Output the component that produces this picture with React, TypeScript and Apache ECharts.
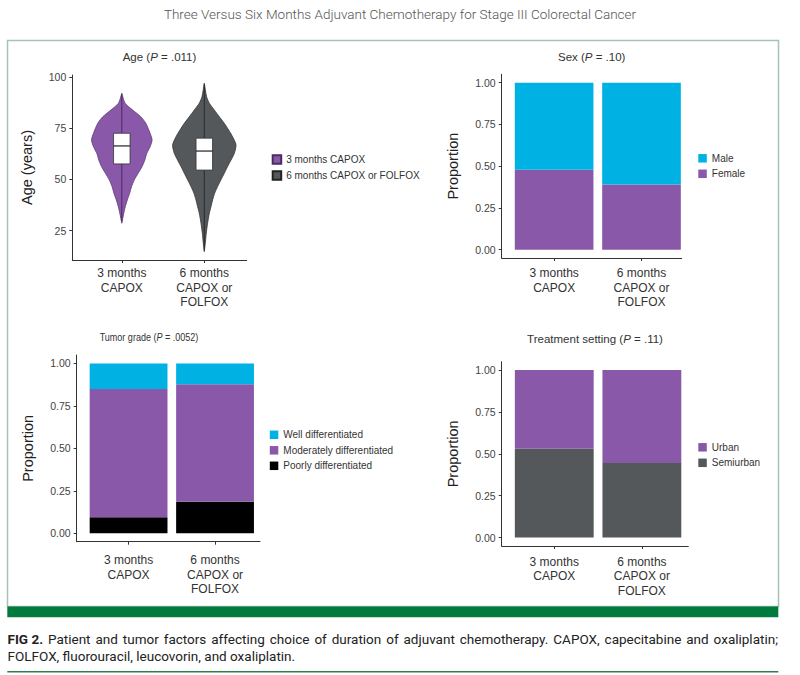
import React, { useEffect, useRef } from 'react';
import * as echarts from 'echarts';

// ---------- data ----------
const groups = ['3 months\nCAPOX', '6 months\nCAPOX or\nFOLFOX'];
const groupPos = [1, 2];

// Age violins: [age (years), half-width of violin in x-axis units]
const violin3m: [number, number][] = [
  [92.2, 0], [87.3, 0.04], [84.0, 0.131], [80.7, 0.23], [77.5, 0.291], [72.6, 0.343],
  [69.3, 0.367], [66.0, 0.343], [62.8, 0.303], [59.5, 0.279], [56.3, 0.246], [53.0, 0.198],
  [49.8, 0.152], [46.5, 0.118], [43.2, 0.095], [40.0, 0.067], [36.7, 0.042], [33.5, 0.024], [28.6, 0],
];
const violin6m: [number, number][] = [
  [97.1, 0], [90.5, 0.028], [87.3, 0.061], [84.0, 0.121], [80.7, 0.182], [77.5, 0.242],
  [74.2, 0.295], [70.9, 0.343], [66.9, 0.384], [62.8, 0.364], [59.5, 0.324], [56.3, 0.282],
  [53.0, 0.242], [49.8, 0.202], [46.5, 0.161], [43.2, 0.125], [40.0, 0.101], [36.7, 0.081],
  [33.5, 0.061], [28.6, 0.04], [23.7, 0.024], [18.8, 0.012], [14.7, 0],
];
const box3m = [57.6, 66.4, 72.6]; // q1, median, q3
const box6m = [54.6, 63.9, 70.2];
const whisker3m = [29.5, 91.5];
const whisker6m = [15.2, 96.5];
const ageTicks = [25, 50, 75, 100];
const propTicks = [0, 0.25, 0.5, 0.75, 1];

const sexFemale = [0.479, 0.39];
const sexMale = [0.521, 0.61];
const gradePoor = [0.094, 0.185];
const gradeModerate = [0.756, 0.692];
const gradeWell = [0.15, 0.123];
const settingSemiurban = [0.53, 0.446];
const settingUrban = [0.47, 0.554];

const captionLine1 = 'FIG 2.|Patient and tumor factors affecting choice of duration of adjuvant chemotherapy. CAPOX, capecitabine and oxaliplatin;';
const captionLine2 = 'FOLFOX, fluorouracil, leucovorin, and oxaliplatin.';

// ---------- styling ----------
const FONT = 'Liberation Sans';
const CAP_FONT = 'Roboto';
const CAP_SIZE = 13.5;
const PURPLE = '#8a58a8';
const CYAN = '#00b2e3';
const GRAY = '#55585a';
const BLACK = '#000000';
const AXIS = '#333333';

const barHalf = 0.45;
const boxHalf = 0.1;

function barRender(params: any, api: any) {
  const x = api.value(0);
  const y0 = api.value(1);
  const y1 = api.value(2);
  const p0 = api.coord([x - barHalf, y1]);
  const p1 = api.coord([x + barHalf, y0]);
  return {
    type: 'rect',
    shape: { x: p0[0], y: p0[1], width: p1[0] - p0[0], height: p1[1] - p0[1] },
    style: { fill: api.visual('color') },
  };
}

function stackSeries(layers: { name: string; values: number[]; color: string }[], idx: number) {
  const base = [0, 0];
  return layers.map((l) => {
    const data = l.values.map((v, i) => {
      const d = [groupPos[i], base[i], base[i] + v];
      base[i] += v;
      return d;
    });
    return {
      type: 'custom',
      name: l.name,
      xAxisIndex: idx,
      yAxisIndex: idx,
      data,
      itemStyle: { color: l.color },
      encode: { x: 0, y: [1, 2] },
      renderItem: barRender,
    };
  });
}

function violinRender(profile: [number, number][], box: number[], whisk: number[], outline: string, whiskColor: string) {
  return (params: any, api: any) => {
    const x = api.value(0);
    const right = profile.map(([a, w]) => api.coord([x + w, a]));
    const left = profile.slice().reverse().map(([a, w]) => api.coord([x - w, a]));
    const pts = right.concat(left);
    const b0 = api.coord([x - boxHalf, box[2]]);
    const b1 = api.coord([x + boxHalf, box[0]]);
    const m0 = api.coord([x - boxHalf, box[1]]);
    const m1 = api.coord([x + boxHalf, box[1]]);
    const w0 = api.coord([x, whisk[0]]);
    const w1 = api.coord([x, whisk[1]]);
    return {
      type: 'group',
      children: [
        { type: 'polygon', shape: { points: pts, smooth: 0.25 }, style: { fill: api.visual('color'), stroke: outline, lineWidth: 0.8 } },
        { type: 'line', shape: { x1: w0[0], y1: w0[1], x2: w1[0], y2: w1[1] }, style: { stroke: whiskColor, lineWidth: 1 } },
        { type: 'rect', shape: { x: b0[0], y: b0[1], width: b1[0] - b0[0], height: b1[1] - b0[1] }, style: { fill: '#ffffff', stroke: '#333333', lineWidth: 0.8 } },
        { type: 'line', shape: { x1: m0[0], y1: m0[1], x2: m1[0], y2: m1[1] }, style: { stroke: '#222222', lineWidth: 1.2 } },
      ],
    };
  };
}

function xAxisFor(gridIndex: number, max: number, margin: number) {
  return {
    type: 'value',
    gridIndex,
    min: 0.4,
    max,
    axisLine: { show: true, onZero: false, lineStyle: { color: AXIS, width: 1 } },
    axisTick: { show: true, length: 3, customValues: groupPos, lineStyle: { color: AXIS } },
    axisLabel: {
      customValues: groupPos,
      formatter: (v: number) => groups[Math.round(v) - 1] ?? '',
      margin,
      fontFamily: FONT,
      fontSize: 12,
      lineHeight: 14.5,
      color: '#333333',
    },
    splitLine: { show: false },
  };
}

function yAxisFor(gridIndex: number, min: number, max: number, ticks: number[], name: string, nameGap: number, fmt: (v: number) => string) {
  return {
    type: 'value',
    gridIndex,
    min,
    max,
    name,
    nameLocation: 'middle',
    nameGap,
    nameTextStyle: { fontFamily: FONT, fontSize: 14.5, color: '#222222' },
    axisLine: { show: true, onZero: false, lineStyle: { color: AXIS, width: 1 } },
    axisTick: { show: true, length: 3, customValues: ticks, lineStyle: { color: AXIS } },
    axisLabel: { customValues: ticks, formatter: fmt, margin: 6, fontFamily: FONT, fontSize: 10.5, color: '#444444' },
    splitLine: { show: false },
  };
}

function legendFor(left: number, top: number, names: string[]) {
  return {
    left,
    top,
    orient: 'vertical',
    padding: 0,
    itemWidth: 8.5,
    itemHeight: 8.5,
    itemGap: 5.5,
    icon: 'rect',
    selectedMode: false,
    data: names,
    textStyle: { fontFamily: FONT, fontSize: 10, color: '#333333' },
  };
}

const prop = (v: number) => v.toFixed(2);

// justified caption line: words spread between x0 and x1
function justifiedLine(line: string, x0: number, x1: number, y: number) {
  const [boldPart, rest] = line.split('|');
  const tokens = [{ t: boldPart, b: true }, ...rest.split(' ').map((t) => ({ t, b: false }))];
  const ctx = document.createElement('canvas').getContext('2d') as CanvasRenderingContext2D;
  const widths = tokens.map((tk) => {
    ctx.font = `${tk.b ? 'bold ' : ''}${CAP_SIZE}px ${CAP_FONT}`;
    return ctx.measureText(tk.t).width;
  });
  const total = widths.reduce((a, b) => a + b, 0);
  const gap = (x1 - x0 - total) / (tokens.length - 1);
  let x = x0;
  return tokens.map((tk, i) => {
    const el = {
      type: 'text', x, y, z: 10,
      style: { text: tk.t, fontFamily: CAP_FONT, fontSize: CAP_SIZE, fontWeight: tk.b ? 'bold' : 'normal', fill: '#222222', align: 'left', verticalAlign: 'middle' },
    };
    x += widths[i] + gap;
    return el;
  });
}

export default function App() {
  const ref = useRef<HTMLDivElement>(null);
  useEffect(() => {
    if (!ref.current) return;
    const chart = echarts.init(ref.current, null, { renderer: 'svg' });
    const option: any = {
      animation: false,
      backgroundColor: '#ffffff',
      textStyle: { fontFamily: FONT },
      grid: [
        { left: 72.3, top: 75, width: 174.4, height: 185 },
        { left: 501.7, top: 74.3, width: 180, height: 183.7 },
        { left: 76.7, top: 355, width: 183.3, height: 186.7 },
        { left: 501.7, top: 361.7, width: 186.6, height: 184.3 },
      ],
      xAxis: [
        xAxisFor(0, 2.514, 6),
        xAxisFor(1, 2.46, 8),
        xAxisFor(2, 2.52, 11.5),
        xAxisFor(3, 2.53, 8.5),
      ],
      yAxis: [
        yAxisFor(0, 10.6, 101.1, ageTicks, 'Age (years)', 38, (v) => String(v)),
        yAxisFor(1, -0.05, 1.05, propTicks, 'Proportion', 41, prop),
        yAxisFor(2, -0.05, 1.05, propTicks, 'Proportion', 41, prop),
        yAxisFor(3, -0.05, 1.05, propTicks, 'Proportion', 41, prop),
      ],
      legend: [
        legendFor(271.7, 154.3, ['3 months CAPOX', '6 months CAPOX or FOLFOX']),
        legendFor(698.3, 153.3, ['Male', 'Female']),
        legendFor(269.8, 429.8, ['Well differentiated', 'Moderately differentiated', 'Poorly differentiated']),
        legendFor(698.3, 442.3, ['Urban', 'Semiurban']),
      ],
      series: [
        {
          type: 'custom',
          name: '3 months CAPOX',
          xAxisIndex: 0,
          yAxisIndex: 0,
          data: [[groupPos[0], box3m[1]]],
          itemStyle: { color: PURPLE, borderColor: '#4b2c60', borderWidth: 0.6 },
          renderItem: violinRender(violin3m, box3m, whisker3m, '#5a3672', '#4a2a5e'),
        },
        {
          type: 'custom',
          name: '6 months CAPOX or FOLFOX',
          xAxisIndex: 0,
          yAxisIndex: 0,
          data: [[groupPos[1], box6m[1]]],
          itemStyle: { color: GRAY, borderColor: '#222222', borderWidth: 0.6 },
          renderItem: violinRender(violin6m, box6m, whisker6m, '#333333', '#2a2a2a'),
        },
        ...stackSeries([
          { name: 'Female', values: sexFemale, color: PURPLE },
          { name: 'Male', values: sexMale, color: CYAN },
        ], 1),
        ...stackSeries([
          { name: 'Poorly differentiated', values: gradePoor, color: BLACK },
          { name: 'Moderately differentiated', values: gradeModerate, color: PURPLE },
          { name: 'Well differentiated', values: gradeWell, color: CYAN },
        ], 2),
        ...stackSeries([
          { name: 'Semiurban', values: settingSemiurban, color: GRAY },
          { name: 'Urban', values: settingUrban, color: PURPLE },
        ], 3),
      ],
      graphic: [
        {
          type: 'text', x: 400, y: 13.5, z: 10,
          style: { text: 'Three Versus Six Months Adjuvant Chemotherapy for Stage III Colorectal Cancer', fontFamily: 'Roboto', fontSize: 13.5, fontWeight: 300, fill: '#555555', align: 'center', verticalAlign: 'middle' },
        },
        { type: 'rect', shape: { x: 7.5, y: 40.5, width: 771, height: 566 }, style: { fill: 'none', stroke: '#a6c3b4', lineWidth: 1.5 }, z: -1 },
        { type: 'rect', shape: { x: 7.3, y: 606.5, width: 771, height: 10.8 }, style: { fill: '#007a3d' }, z: 10 },
        ...[
          { x: 159.5, y: 57, t: 'Age ({i|P} = .011)', sx: 1, fs: 11.5 },
          { x: 591.7, y: 57, t: 'Sex ({i|P} = .10)', sx: 1, fs: 11.5 },
          { x: 149, y: 337, t: 'Tumor grade ({i|P} = .0052)', sx: 0.86, fs: 10.5 },
          { x: 595, y: 339, t: 'Treatment setting ({i|P} = .11)', sx: 1, fs: 11.5 },
        ].map((p) => ({
          type: 'text', x: p.x, y: p.y, z: 10, scaleX: p.sx,
          style: {
            text: p.t, fontFamily: FONT, fontSize: p.fs, fill: '#333333', align: 'center', verticalAlign: 'middle',
            rich: { i: { fontStyle: 'italic', fontFamily: FONT, fontSize: p.fs, fill: '#333333' } },
          },
        })),
        ...justifiedLine(captionLine1, 7.5, 778, 638.5),
        {
          type: 'text', x: 7.5, y: 655.5, z: 10,
          style: { text: captionLine2, fontFamily: CAP_FONT, fontSize: CAP_SIZE, fill: '#222222', align: 'left', verticalAlign: 'middle' },
        },
        { type: 'line', shape: { x1: 7.3, y1: 671.7, x2: 778.3, y2: 671.7 }, style: { stroke: '#2e7d4f', lineWidth: 1.5 }, z: 10 },
      ],
    };
    chart.setOption(option);
    return () => chart.dispose();
  }, []);
  return <div ref={ref} style={{ position: 'fixed', left: 0, top: 0, width: 800, height: 675, background: '#ffffff' }} />;
}
